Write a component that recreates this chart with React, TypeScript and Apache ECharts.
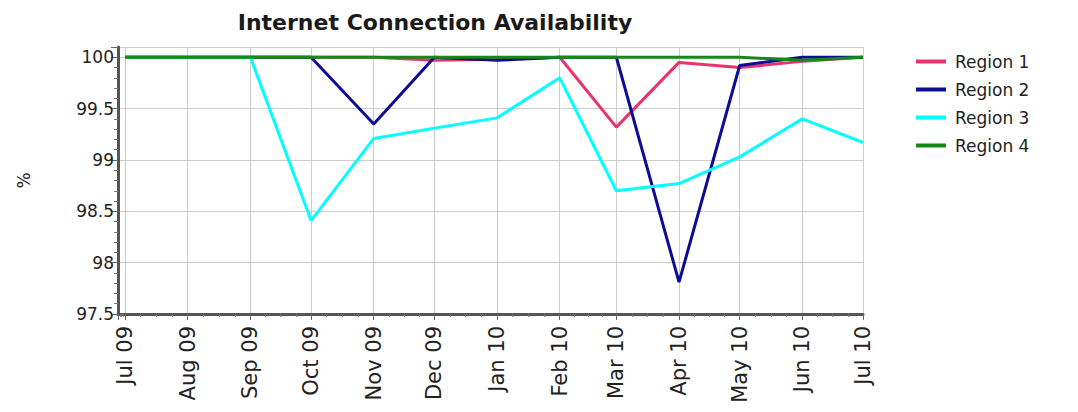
import React, { useEffect, useRef } from "react";
import * as echarts from "echarts";

const months = [
  "2009-07-01", "2009-08-01", "2009-09-01", "2009-10-01", "2009-11-01", "2009-12-01",
  "2010-01-01", "2010-02-01", "2010-03-01", "2010-04-01", "2010-05-01", "2010-06-01", "2010-07-01",
];
const monthNames = ["Jan", "Feb", "Mar", "Apr", "May", "Jun", "Jul", "Aug", "Sep", "Oct", "Nov", "Dec"];

const region1 = [100, 100, 100, 100, 100, 99.97, 99.98, 100, 99.32, 99.95, 99.9, 99.96, 100];
const region2 = [100, 100, 100, 100, 99.35, 100, 99.97, 100, 100, 97.81, 99.92, 100, 100];
const region3 = [100, 100, 100, 98.41, 99.21, 99.31, 99.41, 99.8, 98.7, 98.77, 99.03, 99.4, 99.17];
const region4 = [100, 100, 100, 100, 100, 100, 100, 100, 100, 100, 100, 99.97, 100];

const seriesNames = ["Region 1", "Region 2", "Region 3", "Region 4"];
const seriesValues = [region1, region2, region3, region4];
const colors = ["#e8336c", "#0c0c96", "#00ffff", "#148a14"];

const FONT = "DejaVu Sans";

export default function App() {
  const ref = useRef<HTMLDivElement>(null);
  useEffect(() => {
    if (!ref.current) return;
    const chart = echarts.init(ref.current, undefined, { renderer: "svg" });
    chart.setOption({
      animation: false,
      backgroundColor: "#ffffff",
      color: colors,
      title: {
        text: "Internet Connection Availability",
        left: 430,
        top: 6,
        textAlign: "center",
        textStyle: { fontFamily: FONT, fontWeight: "bold", fontSize: 22, color: "#1a1a1a" },
      },
      legend: {
        orient: "vertical",
        left: 911,
        top: 47,
        itemWidth: 30,
        itemHeight: 4,
        itemGap: 9,
        icon: "rect",
        textStyle: { fontFamily: FONT, fontSize: 17, color: "#222", padding: [0, 0, 0, 4], lineHeight: 19 },
        data: seriesNames,
      },
      grid: { left: 118, top: 47, right: 215, bottom: 98, containLabel: false },
      xAxis: {
        type: "time",
        min: new Date(2009, 5, 27, 12).getTime(),
        max: new Date(2010, 6, 1).getTime(),
        minInterval: 28 * 86400000,
        maxInterval: 31 * 86400000,
        splitNumber: 12,
        axisLine: { show: true, onZero: false, lineStyle: { color: "#555", width: 3 } },
        axisTick: { show: true, length: 6, lineStyle: { color: "#666", width: 1 } },
        minorTick: { show: true, splitNumber: 4, length: 3, lineStyle: { color: "#777" } },
        splitLine: { show: true, lineStyle: { color: "#cccccc", width: 1 } },
        axisLabel: {
          rotate: 90,
          margin: 12,
          fontFamily: FONT,
          fontSize: 21,
          color: "#222",
          hideOverlap: false,
          showMinLabel: false,
          formatter: (v: number) => {
            const d = new Date(v);
            return monthNames[d.getMonth()] + " " + String(d.getFullYear() % 100).padStart(2, "0");
          },
        },
      },
      yAxis: {
        type: "value",
        min: 97.5,
        max: 100.1,
        interval: 0.5,
        name: "%",
        nameLocation: "middle",
        nameGap: 86,
        nameRotate: 90,
        nameTextStyle: { fontFamily: FONT, fontSize: 17, color: "#222" },
        axisLine: { show: true, lineStyle: { color: "#555", width: 3 } },
        axisTick: { show: true, length: 7, lineStyle: { color: "#666", width: 1 } },
        minorTick: { show: true, splitNumber: 5, length: 4, lineStyle: { color: "#777" } },
        splitLine: { show: true, lineStyle: { color: "#cccccc", width: 1 } },
        axisLabel: {
          margin: 4,
          fontFamily: FONT,
          fontSize: 17,
          color: "#222",
          showMaxLabel: false,
          formatter: (v: number) => String(Math.round(v * 10) / 10),
        },
      },
      series: seriesNames.map((name, i) => ({
        name,
        type: "line",
        showSymbol: false,
        symbol: "none",
        lineStyle: { width: 3, color: colors[i] },
        itemStyle: { color: colors[i] },
        data: months.map((m, j) => [m, seriesValues[i][j]]),
      })),
    });
    return () => chart.dispose();
  }, []);
  return (
    <div
      ref={ref}
      style={{ position: "fixed", left: 0, top: 0, width: 1078, height: 412, background: "#fff" }}
    />
  );
}
